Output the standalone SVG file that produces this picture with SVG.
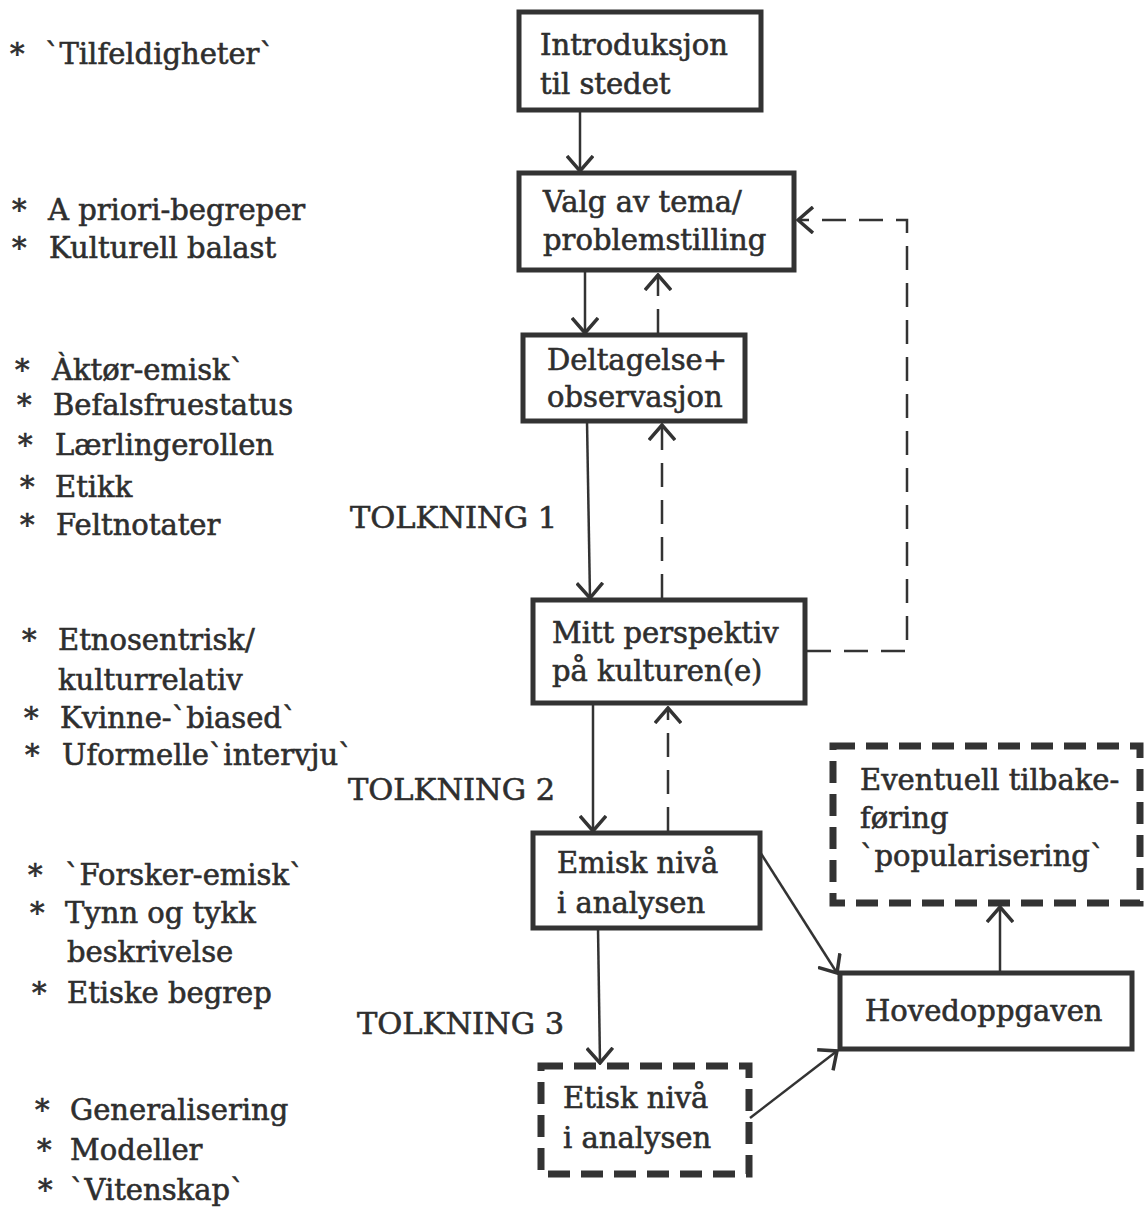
<svg xmlns="http://www.w3.org/2000/svg" width="1144" height="1207" viewBox="0 0 1144 1207">
<style>
text{font-family:"DejaVu Serif","Liberation Serif",serif;fill:#2e2e2e;stroke:#2e2e2e;stroke-width:0.6}
.bt{font-size:29px}
.lt{font-size:29px}
.tk{font-size:30.5px}
.box{fill:none;stroke:#333;stroke-width:5}
.dbox{fill:none;stroke:#333;stroke-width:7;stroke-dasharray:22 11}
.c{fill:none;stroke:#333;stroke-width:2.5}
.d{fill:none;stroke:#333;stroke-width:2.5;stroke-dasharray:24 13}
</style>
<defs>
<marker id="ah" viewBox="0 0 18 28" refX="16" refY="14" markerWidth="18" markerHeight="28" markerUnits="userSpaceOnUse" orient="auto">
<path d="M1,1 L16,14 L1,27" fill="none" stroke="#333" stroke-width="3.5"/>
</marker>
</defs>
<rect width="1144" height="1207" fill="#fff"/>
<g id="left-list">
<text class="lt" x="10" y="64">*</text><text class="lt" x="45" y="64">`Tilfeldigheter`</text>
<text class="lt" x="12" y="220">*</text><text class="lt" x="48" y="220">A priori-begreper</text>
<text class="lt" x="12" y="258">*</text><text class="lt" x="49" y="258">Kulturell balast</text>
<text class="lt" x="15" y="380">*</text><text class="lt" x="52" y="380">Àktør-emisk`</text>
<text class="lt" x="17" y="415">*</text><text class="lt" x="53" y="415">Befalsfruestatus</text>
<text class="lt" x="18" y="455">*</text><text class="lt" x="55" y="455">Lærlingerollen</text>
<text class="lt" x="20" y="497">*</text><text class="lt" x="55" y="497">Etikk</text>
<text class="lt" x="20" y="535">*</text><text class="lt" x="56" y="535">Feltnotater</text>
<text class="lt" x="22" y="650">*</text><text class="lt" x="58" y="650">Etnosentrisk/</text>
<text class="lt" x="58" y="690">kulturrelativ</text>
<text class="lt" x="24" y="728">*</text><text class="lt" x="60" y="728">Kvinne-`biased`</text>
<text class="lt" x="25" y="765">*</text><text class="lt" x="62" y="765">Uformelle`intervju`</text>
<text class="lt" x="28" y="885">*</text><text class="lt" x="65" y="885">`Forsker-emisk`</text>
<text class="lt" x="30" y="923">*</text><text class="lt" x="65" y="923">Tynn og tykk</text>
<text class="lt" x="67" y="962">beskrivelse</text>
<text class="lt" x="32" y="1003">*</text><text class="lt" x="67" y="1003">Etiske begrep</text>
<text class="lt" x="35" y="1120">*</text><text class="lt" x="70" y="1120">Generalisering</text>
<text class="lt" x="37" y="1160">*</text><text class="lt" x="70" y="1160">Modeller</text>
<text class="lt" x="38" y="1200">*</text><text class="lt" x="70" y="1200">`Vitenskap`</text>
</g>
<g id="labels">
<text class="tk" x="350" y="528">TOLKNING 1</text>
<text class="tk" x="348" y="800">TOLKNING 2</text>
<text class="tk" x="357" y="1034">TOLKNING 3</text>
</g>
<g id="connectors">
<path class="c" d="M580,110 V171" marker-end="url(#ah)"/>
<path class="c" d="M585,270 V333" marker-end="url(#ah)"/>
<path class="c" d="M587,421 L590,598" marker-end="url(#ah)"/>
<path class="c" d="M593,705 V831" marker-end="url(#ah)"/>
<path class="c" d="M598,928 L600,1063" marker-end="url(#ah)"/>
<path class="c" d="M760,852 L837,973" marker-end="url(#ah)"/>
<path class="c" d="M750,1118 L837,1051" marker-end="url(#ah)"/>
<path class="c" d="M1000,972 V907" marker-end="url(#ah)"/>
<path class="d" d="M658,333 V275" marker-end="url(#ah)"/>
<path class="d" d="M662,598 V425" marker-end="url(#ah)"/>
<path class="d" d="M668,831 V708" marker-end="url(#ah)"/>
<path class="d" d="M807,651 H907 V220 H798" marker-end="url(#ah)"/>
</g>
<g id="n-intro"><rect class="box" x="519" y="12" width="242" height="98"/>
<text class="bt" x="540" y="55">Introduksjon</text><text class="bt" x="540" y="94">til stedet</text></g>
<g id="n-valg"><rect class="box" x="519" y="173" width="275" height="97"/>
<text class="bt" x="543" y="212">Valg av tema/</text><text class="bt" x="543" y="250">problemstilling</text></g>
<g id="n-delt"><rect class="box" x="523" y="335" width="222" height="86"/>
<text class="bt" x="547" y="370">Deltagelse+</text><text class="bt" x="547" y="407">observasjon</text></g>
<g id="n-mitt"><rect class="box" x="533" y="600" width="272" height="103"/>
<text class="bt" x="552" y="643">Mitt perspektiv</text><text class="bt" x="552" y="681">på kulturen(e)</text></g>
<g id="n-emisk"><rect class="box" x="533" y="833" width="227" height="95"/>
<text class="bt" x="557" y="873">Emisk nivå</text><text class="bt" x="557" y="913">i analysen</text></g>
<g id="n-etisk"><rect class="dbox" x="541" y="1066" width="208" height="108"/>
<text class="bt" x="563" y="1108">Etisk nivå</text><text class="bt" x="563" y="1148">i analysen</text></g>
<g id="n-hoved"><rect class="box" x="840" y="973" width="292" height="76"/>
<text class="bt" x="865" y="1021">Hovedoppgaven</text></g>
<g id="n-eventuell"><rect class="dbox" x="833" y="746" width="307" height="157"/>
<text class="bt" x="860" y="790">Eventuell tilbake-</text><text class="bt" x="860" y="828">føring</text><text class="bt" x="860" y="866">`popularisering`</text></g>
</svg>
